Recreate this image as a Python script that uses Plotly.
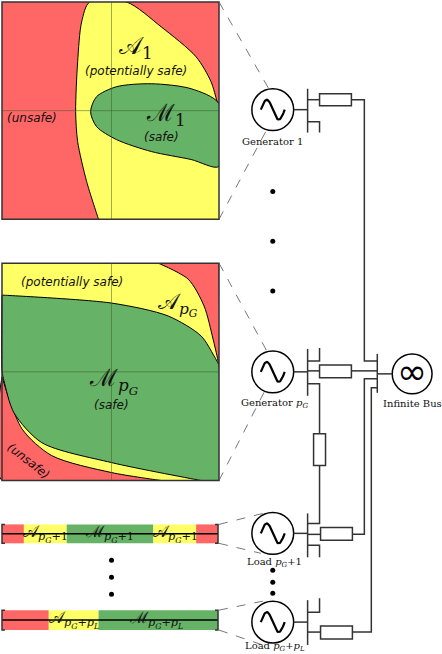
import numpy as np
import plotly.graph_objects as go

RED = "#ff6666"
YEL = "#ffff66"
GRN = "#66b266"

# ---- panel 1 (generator 1) region outlines, pixel coords
p1_yellow_x = [88, 125, 160, 195, 210, 216, 218, 218, 218, 97, 97, 85, 76, 74, 76, 80, 88]
p1_yellow_y = [0, 0, 25, 55, 80, 100, 108, 108, 218, 218, 218, 180, 140, 110, 60, 20, 0]
p1_green_x = [218, 190, 150, 115, 95, 89, 95, 115, 150, 190, 218, 218]
p1_green_y = [102, 87, 82, 85, 95, 110, 125, 138, 150, 158, 165, 102]

# ---- panel 2 (generator pG)
p2_redtop_x = [157, 157, 187, 203, 212, 216, 218, 218, 218, 157]
p2_redtop_y = [262, 262, 278, 305, 338, 355, 364, 262, 262, 262]
p2_redbot_x = [0, 0, 20, 50, 110, 160, 160, 0, 0]
p2_redbot_y = [376, 376, 428, 455, 472, 480, 480, 480, 376]
p2_green_x = [0, 0, 110, 167, 200, 213, 218, 218, 218, 200, 200, 110, 40, 12, 2, 0, 0]
p2_green_y = [294, 294, 302, 315, 335, 355, 364, 364, 480, 480, 480, 462, 442, 412, 380, 370, 294]

# ---- 1-D bars for loads: segment edges and colours
bar1_edges = [0, 22, 65, 152, 195, 217]
bar1_cols = [RED, YEL, GRN, YEL, RED]
bar2_edges = [0, 47, 97, 217]
bar2_cols = [RED, YEL, GRN]

fig = go.Figure()

def region(xs, ys, col, spline=True):
    fig.add_trace(go.Scatter(x=xs, y=ys, fill="toself", fillcolor=col, mode="lines",
                             line=dict(color="black", width=1, shape="spline" if spline else "linear",
                                       smoothing=0.8),
                             hoverinfo="skip", showlegend=False))

shapes = []
def rect(x0, y0, x1, y1, fill, lw=0, lc="black"):
    shapes.append(dict(type="rect", x0=x0, y0=y0, x1=x1, y1=y1, fillcolor=fill,
                       line=dict(width=lw, color=lc), layer="below"))
def seg(pts, w=1.5, col="#333", dash="solid"):
    path = "M " + " L ".join(f"{x},{y}" for x, y in pts)
    shapes.append(dict(type="path", path=path, line=dict(width=w, color=col, dash=dash)))

# panel backgrounds
rect(0, 0, 218, 218, RED)
rect(0, 262, 218, 480, YEL)
region(p1_yellow_x, p1_yellow_y, YEL)
region(p1_green_x, p1_green_y, GRN)
region(p2_redtop_x, p2_redtop_y, RED)
region(p2_redbot_x, p2_redbot_y, RED)
region(p2_green_x, p2_green_y, GRN)

# white margin cover to clip spline overshoot
for (x0, y0, x1, y1) in [(-5, -10, 442, 0), (218, 0, 230, 218), (218, 262, 230, 480),
                         (-5, 218, 230, 262), (-5, 480, 230, 500)]:
    shapes.append(dict(type="rect", x0=x0, y0=y0, x1=x1, y1=y1, fillcolor="white",
                       line=dict(width=0)))

for (y0, y1) in [(0, 218), (262, 480)]:
    shapes.append(dict(type="rect", x0=0, y0=y0, x1=218, y1=y1, line=dict(width=1.5, color="#333")))
    seg([(110, y0), (110, y1)], 1, "rgba(60,90,40,0.5)")
    seg([(0, (y0 + y1) / 2), (218, (y0 + y1) / 2)], 1, "rgba(60,90,40,0.5)")

# bars
for edges, cols, y0, y1 in [(bar1_edges, bar1_cols, 524, 543), (bar2_edges, bar2_cols, 610, 630)]:
    for i, c in enumerate(cols):
        shapes.append(dict(type="rect", x0=edges[i], y0=y0, x1=edges[i + 1], y1=y1,
                           fillcolor=c, line=dict(width=0)))
    ym = (y0 + y1) / 2
    seg([(0, ym), (217, ym)], 1.5, "black")
    seg([(3, y0), (0, y0), (0, y1), (3, y1)], 1.5, "#333")
    seg([(214, y0), (217, y0), (217, y1), (214, y1)], 1.5, "#333")

# dashed zoom lines
for a, b in [((218, 0), (268, 87)), ((218, 218), (266, 128)), ((218, 262), (266, 350)),
             ((218, 480), (264, 390)), ((218, 524), (262, 513)), ((218, 543), (260, 553)),
             ((218, 610), (262, 601)), ((218, 630), (262, 645))]:
    seg([a, b], 0.8, "#555", "dash")

# sources
circles = [(272, 108), (272, 371), (272, 533), (272, 622)]
for cx, cy in circles:
    shapes.append(dict(type="circle", x0=cx - 21, y0=cy - 21, x1=cx + 21, y1=cy + 21,
                       line=dict(width=1.5, color="black")))
    t = np.linspace(0, 2 * np.pi, 40)
    fig.add_trace(go.Scatter(x=cx - 12 + 24 * t / (2 * np.pi), y=cy - 10 * np.sin(t), mode="lines",
                             line=dict(color="black", width=2.2), hoverinfo="skip", showlegend=False))
    seg([(cx + 21, cy), (307, cy)])
shapes.append(dict(type="circle", x0=392, y0=353, x1=432, y1=393,
                   line=dict(width=1.5, color="black")))

def resistor(x0, y0, x1, y1):
    shapes.append(dict(type="rect", x0=x0, y0=y0, x1=x1, y1=y1, fillcolor="white",
                       line=dict(width=1.5, color="#333")))

# gen 1
seg([(307, 87), (307, 131)])
seg([(307, 98), (319, 98)]); resistor(319, 92, 351, 104)
seg([(351, 98), (364, 98), (364, 360), (377, 360)])
seg([(307, 120), (319, 120), (319, 131)])
# gen pG
seg([(307, 348), (307, 395)])
seg([(319, 347), (319, 360), (307, 360)])
resistor(319, 364, 351, 377)
seg([(307, 370), (319, 370)]); seg([(351, 370), (377, 370)])
seg([(307, 383), (319, 383), (319, 433)])
resistor(313, 433, 325, 465)
seg([(319, 465), (319, 523), (307, 523)])
# infinite bus
seg([(377, 353), (377, 392)])
seg([(377, 373), (392, 373)])
seg([(377, 378), (364, 378), (364, 534), (352, 534)])
seg([(377, 387), (371, 387), (371, 632), (352, 632)])
# load 1
seg([(307, 513), (307, 557)])
resistor(320, 527, 352, 540); seg([(307, 534), (320, 534)])
seg([(307, 545), (319, 545), (319, 557)])
# load 2
seg([(307, 600), (307, 645)])
seg([(319, 598), (319, 612), (307, 612)])
resistor(320, 626, 352, 639); seg([(307, 632), (320, 632)])

# dots
dots_x = [110, 110, 110, 272, 272, 272, 110, 110, 110, 272, 272, 272]
dots_y = [232, 243, 254, 190, 240, 290, 560, 577, 594, 570, 582, 593]
fig.add_trace(go.Scatter(x=dots_x, y=dots_y, mode="markers", marker=dict(color="black", size=5),
                         hoverinfo="skip", showlegend=False))

ann = []
def txt(x, y, s, size=13, font="DejaVu Sans", ang=0, col="#111"):
    ann.append(dict(x=x, y=y, text=s, showarrow=False, textangle=ang,
                    font=dict(size=size, family=font, color=col)))
SF = "DejaVu Serif"
MF = "DejaVu Serif"
txt(135, 46, "𝒜<sub>1</sub>", 24, MF)
txt(135, 69, "<i>(potentially safe)</i>", 12)
txt(165, 113, "ℳ<sub>1</sub>", 24, MF)
txt(160, 135, "<i>(safe)</i>", 12)
txt(30, 116, "<i>(unsafe)</i>", 12)
txt(70, 281, "<i>(potentially safe)</i>", 12)
txt(177, 303, "𝒜<sub><i>p<sub>G</sub></i></sub>", 22, MF)
txt(112, 380, "ℳ<sub><i>p<sub>G</sub></i></sub>", 24, MF)
txt(110, 404, "<i>(safe)</i>", 12)
txt(27, 460, "<i>(unsafe)</i>", 12, ang=38)
for x, s in [(44, "𝒜"), (108, "ℳ"), (174, "𝒜")]:
    txt(x, 533, s + "<sub><i>p<sub>G</sub></i>+1</sub>", 16, MF)
txt(72, 619, "𝒜<sub><i>p<sub>G</sub></i>+<i>p<sub>L</sub></i></sub>", 16, MF)
txt(155, 619, "ℳ<sub><i>p<sub>G</sub></i>+<i>p<sub>L</sub></i></sub>", 16, MF)
txt(272, 140, "Generator 1", 10, SF)
txt(274, 403, "Generator <i>p<sub>G</sub></i>", 10, SF)
txt(412, 403, "Infinite Bus", 10, SF)
txt(274, 562, "Load <i>p<sub>G</sub></i>+1", 10, SF)
txt(274, 646, "Load <i>p<sub>G</sub></i>+<i>p<sub>L</sub></i>", 10, SF)
txt(412, 371, "∞", 36, "DejaVu Sans", col="black")

fig.update_layout(width=442, height=654, margin=dict(l=0, r=0, t=0, b=0),
                  plot_bgcolor="white", paper_bgcolor="white", shapes=shapes, annotations=ann,
                  xaxis=dict(range=[-2, 442], visible=False, fixedrange=True),
                  yaxis=dict(range=[654, -2], visible=False, fixedrange=True))
fig.write_html("out.html", config={"displayModeBar": False},
               post_script="document.body.style.margin='0';")
